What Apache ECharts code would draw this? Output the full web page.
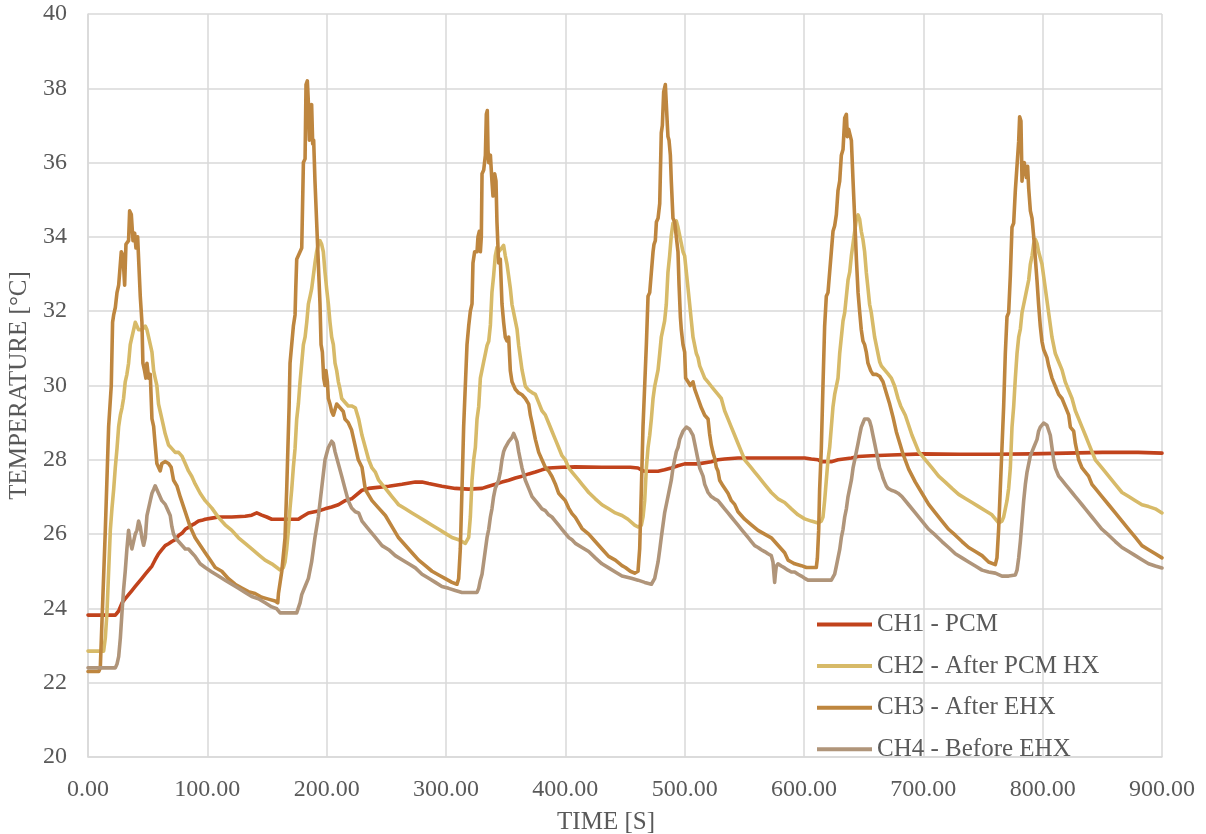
<!DOCTYPE html>
<html>
<head>
<meta charset="utf-8">
<script src="https://cdn.jsdelivr.net/npm/echarts@6/dist/echarts.min.js"></script>
<style>
  html, body { margin: 0; padding: 0; background: #ffffff; }
  #chart { width: 1206px; height: 834px; }
</style>
</head>
<body>
<div id="chart"></div>
<script>
// Channel names shown in the legend
const seriesNames = ['CH1 - PCM', 'CH2 - After PCM HX', 'CH3 - After EHX', 'CH4 - Before EHX'];

// Axis ranges (time in s, temperature in °C)
const timeRange = [0, 900, 100];
const tempRange = [20, 40, 2];

// Measured temperatures: [time s, temperature °C]
const ch1 = [
  [0,23.82],[22.9,23.82],[25.7,23.93],[28.5,24.15],[31.2,24.26],[34,24.37],[36.8,24.48],[39.6,24.59],[42.4,24.7],
  [45.2,24.81],[48,24.92],[50.8,25.03],[53.6,25.14],[56.3,25.31],[59.1,25.47],[61.9,25.58],[64.7,25.69],[67.5,25.74],
  [70.3,25.8],[73.1,25.85],[75.9,25.96],[78.7,26.02],[81.5,26.13],[84.2,26.18],[87,26.24],[89.8,26.29],[92.6,26.35],
  [95.4,26.37],[98.2,26.4],[103.8,26.43],[109.3,26.46],[120.5,26.46],[131.7,26.48],[137.2,26.51],[141.4,26.57],
  [145.6,26.51],[149.8,26.46],[154,26.4],[165.1,26.4],[176.3,26.4],[179.1,26.46],[184.7,26.57],[193,26.62],
  [198.6,26.68],[204.2,26.73],[209.8,26.79],[215.3,26.9],[220.9,26.95],[229.6,27.18],[235.2,27.23],[240.8,27.25],
  [252,27.29],[263.1,27.34],[274.3,27.4],[279.9,27.4],[285.5,27.36],[296.6,27.29],[307.8,27.23],[319,27.21],
  [330.2,27.23],[335.8,27.29],[341.3,27.34],[346.9,27.4],[352.5,27.45],[358.1,27.51],[363.7,27.56],[369.3,27.62],
  [374.9,27.67],[380.4,27.73],[386,27.78],[397.2,27.8],[408.4,27.81],[430.7,27.8],[454.5,27.8],[460.9,27.78],
  [463.7,27.73],[466.5,27.69],[477.7,27.69],[483.2,27.73],[488.8,27.78],[494.4,27.84],[500,27.89],[511.2,27.89],
  [522.3,27.95],[527.9,28.0],[533.5,28.02],[544.7,28.05],[600.6,28.05],[606.1,28.02],[611.7,28.0],[614.5,27.95],
  [622.9,27.95],[628.5,28.0],[639.7,28.05],[645.3,28.09],[656.4,28.11],[673.2,28.13],[700,28.16],[730,28.15],
  [760,28.15],[790,28.16],[820,28.18],[850,28.2],[880,28.2],[900,28.18]
];

const ch2 = [
  [0,22.85],[8.9,22.85],[10.3,22.8],[13.1,22.85],[14.5,23.2],[15.9,23.9],[17.3,25.0],[18.7,26.1],[20.1,26.7],
  [21.5,27.2],[22.9,27.8],[24.3,28.3],[25.7,28.9],[27.1,29.2],[28.5,29.4],[29.8,29.65],[31.2,30.1],[32.6,30.3],
  [34.0,30.6],[35.4,31.1],[36.8,31.3],[38.2,31.5],[39.6,31.7],[41.0,31.6],[42.4,31.5],[45.2,31.5],[48.0,31.6],
  [49.4,31.5],[50.8,31.3],[52.2,31.1],[53.6,30.9],[55.0,30.4],[56.3,30.2],[57.7,30.0],[59.1,29.5],[60.5,29.3],
  [61.9,29.1],[63.3,28.9],[64.7,28.7],[67.5,28.4],[70.3,28.3],[73.1,28.2],[75.9,28.2],[78.7,28.1],[81.5,27.9],
  [84.2,27.7],[87,27.55],[89.8,27.35],[94,27.1],[98.2,26.9],[103.8,26.7],[109.3,26.45],[114.9,26.25],[120.5,26.1],
  [126.1,25.9],[131.7,25.75],[137.2,25.6],[142.8,25.45],[148.4,25.3],[154,25.2],[158.2,25.1],[161,25.03],
  [163.7,25.1],[165.1,25.25],[166.5,25.6],[167.9,26.1],[169.3,26.7],[170.7,27.2],[172.1,27.8],[173.5,28.3],
  [174.9,29.1],[176.3,29.5],[177.7,30.1],[179.1,30.6],[180.5,31.1],[181.9,31.3],[183.3,31.7],[184.7,32.2],
  [186.1,32.4],[187.4,32.6],[188.8,32.95],[190.2,33.3],[191.6,33.6],[193,33.8],[194.4,33.9],[195.8,33.8],
  [197.2,33.6],[198.6,33.05],[200,32.6],[201.4,32.2],[202.8,31.7],[204.2,31.3],[205.6,31.1],[207,30.6],
  [208.4,30.4],[209.8,30.1],[211.2,29.9],[212.6,29.65],[215.3,29.55],[218.1,29.45],[220.9,29.45],[224,29.4],
  [226.8,29.1],[229.6,28.66],[232.4,28.33],[235.2,28.0],[238,27.78],[240.8,27.67],[243.6,27.45],[246.4,27.34],
  [249.2,27.23],[252,27.12],[254.7,27.01],[257.5,26.9],[260.3,26.79],[265.9,26.68],[271.5,26.57],[277.1,26.46],
  [282.7,26.35],[288.3,26.24],[293.9,26.13],[299.4,26.02],[305,25.91],[310.6,25.85],[313.4,25.8],[316.2,25.75],
  [319,25.91],[320.4,26.46],[321.8,27.45],[323.2,28.0],[324.6,28.33],[326,29.1],[327.4,29.43],[328.8,30.2],
  [330.2,30.42],[331.6,30.64],[333,30.86],[334.4,31.08],[335.8,31.19],[337.2,31.63],[338.5,32.51],[339.9,32.95],
  [341.3,33.49],[342.7,33.71],[344.1,33.6],[345.5,33.6],[346.9,33.71],[348.3,33.77],[349.7,33.49],[351.1,33.27],
  [352.5,32.95],[353.9,32.62],[355.3,32.18],[356.7,31.96],[358.1,31.74],[359.5,31.52],[360.9,31.08],[362.3,30.75],
  [363.7,30.42],[365.1,30.2],[366.5,29.98],[369.3,29.87],[372.1,29.81],[374.9,29.76],[377.7,29.54],[380.4,29.32],
  [383.2,29.21],[386,28.99],[388.8,28.77],[391.6,28.55],[394.4,28.33],[397.2,28.11],[400,28.0],[402.8,27.78],
  [405.6,27.67],[408.4,27.56],[411.2,27.45],[414,27.34],[416.8,27.23],[419.6,27.12],[425.1,26.95],[430.7,26.79],
  [436.3,26.68],[441.9,26.57],[447.5,26.5],[452.5,26.4],[458.1,26.24],[460.9,26.19],[463.7,26.24],[465.1,26.46],
  [466.5,26.9],[467.9,27.78],[469.3,28.33],[470.7,28.66],[472.1,29.1],[473.5,29.65],[474.9,29.98],[476.3,30.2],
  [477.7,30.42],[479.1,30.86],[480.4,31.3],[481.8,31.52],[483.2,31.74],[484.6,32.18],[486,33.05],[487.4,33.49],
  [488.8,34.04],[490.2,34.37],[491.6,34.37],[493,34.43],[494.4,34.26],[495.8,34.04],[497.2,33.82],[498.6,33.6],
  [500,33.49],[501.4,33.05],[502.8,32.62],[504.2,32.18],[505.6,31.74],[507,31.3],[508.4,31.08],[509.8,30.86],
  [511.2,30.75],[512.6,30.53],[514,30.42],[516.8,30.2],[519.6,30.09],[522.3,29.98],[525.1,29.87],[527.9,29.76],
  [530.7,29.65],[533.5,29.32],[536.3,29.1],[539.1,28.88],[541.9,28.66],[544.7,28.44],[547.5,28.22],[550.3,28.0],
  [553.1,27.89],[555.9,27.78],[558.7,27.67],[561.5,27.56],[567,27.34],[572.6,27.12],[578.2,26.95],[583.8,26.85],
  [589.4,26.68],[595,26.52],[600.6,26.41],[606.1,26.35],[611.7,26.3],[614.5,26.35],[615.9,26.46],[617.3,26.9],
  [618.7,27.45],[620.1,28.0],[621.5,28.33],[622.9,28.88],[624.3,29.43],[625.7,29.76],[628.5,30.2],[629.9,30.86],
  [631.3,31.3],[632.7,31.74],[634.1,31.96],[635.5,32.4],[636.9,32.84],[638.3,33.05],[639.7,33.49],[641.1,33.82],
  [642.5,34.15],[643.9,34.48],[645.3,34.59],[646.6,34.48],[648,34.15],[649.4,33.93],[650.8,33.6],[652.2,33.05],
  [653.6,32.62],[655,32.18],[656.4,31.96],[657.8,31.63],[659.2,31.3],[660.6,31.08],[662,30.86],[663.4,30.64],
  [664.8,30.53],[667.6,30.42],[670.4,30.31],[673.2,30.2],[676,29.98],[678.8,29.65],[681,29.45],[684.9,29.2],
  [690.5,28.66],[696.1,28.22],[701.7,28.0],[707.3,27.78],[712.8,27.56],[718.4,27.4],[724,27.23],[729.6,27.07],
  [735.2,26.96],[740.8,26.85],[746.4,26.74],[752,26.63],[757.5,26.52],[760.3,26.41],[763.1,26.3],[765.9,26.35],
  [767.3,26.46],[768.7,26.68],[770.1,26.9],[771.5,27.23],[772.9,27.78],[774.3,28.88],[775.7,29.43],[777.1,30.2],
  [778.5,30.86],[779.9,31.3],[781.3,31.52],[782.7,31.96],[784.1,32.18],[785.5,32.4],[786.9,32.62],[788.3,32.84],
  [789.7,33.27],[791.1,33.49],[792.5,33.82],[793.9,33.93],[795.3,33.82],[796.6,33.6],[799.4,33.27],[802.2,32.62],
  [805,31.96],[807.8,31.3],[810.6,30.86],[813.4,30.64],[816.2,30.42],[819,30.09],[821.8,29.87],[824.6,29.65],
  [827.4,29.32],[830.2,29.1],[833,28.88],[835.8,28.66],[838.5,28.44],[841.3,28.22],[844.1,28.0],[849.7,27.78],
  [855.3,27.56],[860.9,27.34],[866.5,27.12],[872.1,27.01],[877.7,26.9],[883.2,26.79],[888.8,26.74],[894.4,26.68],
  [900,26.57]
];

const ch3 = [
  [0,22.3],[9,22.3],[10.3,22.4],[14.5,26.1],[17.3,28.9],[19.5,30.0],[20.6,31.7],[21.5,31.9],[22.9,32.1],[24.3,32.5],
  [25.7,32.7],[27.9,33.6],[29.3,33.5],[30.7,32.7],[31.8,33.8],[34.0,33.9],[34.9,34.7],[36.3,34.6],[37.7,33.9],
  [39.1,34.1],[40.2,33.7],[41.6,34.0],[42.4,34.0],[43.8,32.4],[45.2,31.7],[46.0,30.6],[47.4,30.4],[48.5,30.2],
  [49.4,30.6],[50.8,30.2],[52.2,30.3],[53.6,29.1],[55.0,28.9],[56.3,28.4],[57.7,27.9],[59.1,27.8],[60.5,27.7],
  [61.9,27.9],[64.7,27.95],[67.5,27.9],[69.7,27.8],[71.7,27.45],[74.5,27.3],[77.3,27.0],[81.5,26.6],[85.6,26.2],
  [89.8,25.9],[94.0,25.7],[98.2,25.5],[102.4,25.3],[106.6,25.1],[112.1,25.0],[117.7,24.8],[123.3,24.65],
  [128.9,24.55],[134.4,24.45],[140.0,24.4],[145.6,24.3],[151.2,24.25],[156.8,24.2],[159.0,24.15],[159.6,24.4],
  [162.4,25.0],[165.1,25.9],[166.5,27.2],[168.5,29.4],[169.3,30.6],[170.7,31.1],[172.1,31.6],[173.5,31.9],
  [174.1,32.6],[174.9,33.4],[176.3,33.5],[177.7,33.6],[179.1,33.7],[180.5,36.0],[181.9,36.1],[182.7,38.1],
  [183.8,38.2],[184.7,37.6],[185.5,36.6],[186.3,37.45],[187.4,37.56],[188.3,36.5],[189.1,36.6],[190.2,35.5],
  [191.6,34.4],[193.0,33.3],[194.4,32.2],[195.3,31.1],[196.4,30.9],[197.5,30.2],[198.6,30.0],[199.4,30.4],
  [200.6,30.1],[201.4,29.65],[202.8,29.5],[204.2,29.3],[205.6,29.2],[207.0,29.2],[208.4,29.5],[211.2,29.4],
  [213.9,29.3],[215.3,29.1],[218.1,29.0],[220.9,28.8],[223.7,28.4],[226.5,28.0],[229.6,27.8],[232.4,27.2],
  [238,26.9],[243.6,26.7],[249.2,26.5],[254.7,26.2],[260.3,25.9],[265.9,25.7],[271.5,25.5],[277.1,25.3],
  [282.7,25.15],[288.3,25.0],[293.9,24.9],[299.4,24.8],[305,24.7],[309.2,24.65],[310.6,24.8],[312,25.6],
  [313.4,27.2],[314.8,28.9],[316.2,30.0],[317.6,31.1],[319,31.6],[320.4,32.0],[321.8,32.2],[322.6,33.3],
  [324,33.6],[326,33.6],[326.8,34.0],[327.9,34.15],[328.8,33.6],[329.6,34.0],[330.2,35.7],[331.6,35.8],
  [333,36.2],[333.8,37.3],[334.6,37.4],[335.2,36.35],[335.8,36.0],[337.2,36.2],[338.5,35.5],[339.4,35.1],
  [340.8,35.7],[341.9,35.5],[342.7,34.4],[344.1,33.3],[345.5,33.4],[346.9,32.2],[348.3,31.7],[349.7,31.3],
  [351.1,31.2],[352.5,31.3],[353.9,30.4],[355.3,30.1],[358.1,29.9],[360.9,29.8],[363.7,29.75],[366.5,29.65],
  [369.3,29.5],[370.7,29.2],[372.1,29.0],[374.9,28.55],[377.7,28.2],[380.4,28.0],[383.2,27.8],[386,27.7],
  [388.8,27.55],[391.6,27.35],[394.4,27.1],[397.2,27.0],[400,26.9],[402.8,26.7],[405.6,26.55],[408.4,26.45],
  [414,26.15],[419.6,26.0],[425.1,25.8],[430.7,25.6],[436.3,25.4],[441.9,25.3],[447.5,25.15],[450.3,25.1],
  [454.5,25.0],[458.1,24.95],[460.9,25.0],[462.3,25.6],[463.7,27.2],[465.1,28.9],[466.5,30.0],[467.9,31.1],
  [469.3,32.4],[470.7,32.5],[472.1,33.05],[473.5,33.6],[474.3,33.8],[475.4,33.9],[476.3,34.4],[477.7,34.5],
  [479.1,34.9],[480.4,36.8],[481.3,37.0],[482.4,37.9],[483.8,38.1],[484.9,38.1],[485.5,37.0],[486.0,36.7],
  [486.9,36.6],[488.0,36.2],[488.8,35.5],[490.2,34.5],[491.6,34.4],[493.0,34.0],[494.4,33.6],[495.3,32.7],
  [496.4,31.85],[497.2,31.5],[498.6,31.1],[500,30.9],[500.8,30.2],[502.8,30.1],[504.7,30.0],[507,30.1],
  [508.4,29.9],[511.2,29.65],[514,29.4],[516.8,29.2],[519.6,29.1],[520.9,28.7],[522.3,28.4],[523.7,28.2],
  [525.1,28.05],[526.5,27.8],[527.9,27.7],[529.3,27.45],[532.1,27.3],[536.3,27.1],[539.1,26.9],[541.9,26.8],
  [544.7,26.6],[550.3,26.4],[555.9,26.25],[561.5,26.1],[567,26.0],[572.6,25.9],[575.4,25.8],[578.2,25.7],
  [581,25.6],[583.8,25.5],[586.6,25.3],[589.4,25.25],[592.2,25.2],[597.8,25.15],[602,25.1],[606.1,25.1],
  [610.3,25.1],[611.2,25.35],[612.3,26.1],[613.1,27.2],[614.5,28.3],[615.9,30.0],[617.3,31.6],[618.7,32.4],
  [620.1,32.5],[621.5,33.05],[622.9,33.6],[624.3,34.15],[625.7,34.3],[627.1,34.6],[628.5,35.25],[629.9,35.5],
  [631.3,36.2],[632.7,36.35],[634.1,37.2],[635.5,37.3],[636.3,36.7],[637.4,36.9],[638.3,36.9],[639.7,36.6],
  [641.1,35.5],[642.5,34.5],[643.9,33.4],[645.3,32.5],[646.6,32.0],[648.0,31.5],[649.4,31.2],[650.8,31.1],
  [652.2,30.9],[653.6,30.6],[655.9,30.4],[657.8,30.3],[660.6,30.3],[663.4,30.25],[666.2,30.1],[669,29.8],
  [671.8,29.5],[674.6,29.15],[677.4,28.75],[680.2,28.45],[683,28.15],[687.7,27.75],[693.3,27.4],[698.9,27.1],
  [704.5,26.8],[710.1,26.57],[715.6,26.35],[721.2,26.13],[726.8,25.97],[732.4,25.8],[738,25.64],[743.6,25.53],
  [749.2,25.42],[754.7,25.25],[760.3,25.18],[761.7,25.36],[763.1,26.13],[764.5,27.23],[765.9,28.33],
  [767.3,29.43],[768.7,30.86],[770.1,31.85],[771.5,31.96],[772.9,32.95],[774.3,34.26],[775.7,34.37],
  [777.1,35.25],[778.5,35.91],[779.9,36.57],[780.7,37.23],[781.8,37.12],[782.7,35.5],[783.5,35.91],
  [784.6,36.0],[785.5,35.8],[786.3,35.6],[787.4,35.9],[788.3,35.3],[789.7,34.7],[791.1,34.5],[792.5,34.0],
  [793.9,33.4],[795.3,32.8],[796.6,32.18],[798,31.6],[799.4,31.19],[800.8,30.97],[802.2,30.86],[803.6,30.75],
  [805,30.53],[807.8,30.2],[810.6,29.98],[813.4,29.76],[816.2,29.65],[819,29.43],[821.8,29.21],[823.2,28.88],
  [826,28.77],[827.4,28.44],[828.8,28.22],[830.2,28.0],[833,27.78],[835.8,27.67],[838.5,27.56],[841.3,27.34],
  [844.1,27.23],[849.7,27.01],[855.3,26.79],[860.9,26.57],[866.5,26.35],[872.1,26.13],[877.7,25.91],
  [883.2,25.69],[888.8,25.58],[894.4,25.47],[900,25.36]
];

const ch4 = [
  [0,22.4],[22.9,22.4],[24.3,22.5],[25.7,22.7],[27.1,23.2],[28.5,23.9],[29.8,24.5],[31.2,25.0],[32.6,25.6],
  [34.0,26.1],[35.4,25.8],[36.8,25.6],[38.2,25.6],[39.6,26.0],[41.0,26.1],[42.4,26.35],[43.8,26.2],[45.2,25.9],
  [46.6,25.7],[48.0,25.9],[49.4,26.5],[50.8,26.7],[52.2,26.9],[53.6,27.1],[55.0,27.2],[56.3,27.3],[57.7,27.2],
  [59.1,27.1],[60.5,27.0],[61.9,26.9],[63.3,26.9],[64.7,26.8],[66.1,26.7],[67.5,26.6],[68.9,26.5],[70.3,26.2],
  [71.7,26.0],[73.1,25.9],[75.9,25.8],[78.7,25.7],[81.5,25.6],[84.2,25.6],[87,25.5],[89.8,25.4],[94,25.2],
  [98.2,25.1],[103.8,24.98],[109.3,24.87],[114.9,24.76],[120.5,24.65],[126.1,24.54],[131.7,24.43],[137.2,24.32],
  [142.8,24.26],[148.4,24.15],[154,24.04],[158.2,23.99],[161,23.88],[165.1,23.88],[170.7,23.88],[174.9,23.88],
  [176.3,23.93],[177.7,24.15],[179.1,24.37],[181.9,24.59],[184.7,24.81],[187.4,25.25],[190.2,25.91],[193,26.46],
  [195.8,27.23],[198.6,28.0],[201.4,28.33],[204.2,28.5],[205.6,28.44],[207,28.22],[209.8,27.89],[212.6,27.56],
  [215.3,27.23],[218.1,26.9],[220.9,26.7],[224,26.6],[226.8,26.57],[229.6,26.35],[235.2,26.13],[240.8,25.91],
  [246.4,25.69],[252,25.58],[257.5,25.42],[263.1,25.31],[268.7,25.2],[274.3,25.09],[279.9,24.92],[285.5,24.81],
  [291.1,24.7],[296.6,24.59],[302.2,24.54],[307.8,24.48],[313.4,24.43],[319,24.43],[326,24.43],[327.4,24.54],
  [328.8,24.76],[330.2,24.92],[331.6,25.25],[333,25.58],[334.4,25.91],[335.8,26.13],[337.2,26.46],[338.5,26.68],
  [339.9,27.01],[341.3,27.23],[344.1,27.45],[345.5,27.67],[346.9,28.0],[348.3,28.22],[349.7,28.33],[352.5,28.49],
  [355.3,28.6],[356.7,28.71],[358.1,28.66],[359.5,28.49],[360.9,28.22],[362.3,28.0],[363.7,27.78],[366.5,27.45],
  [369.3,27.23],[372.1,27.01],[374.9,26.9],[377.7,26.79],[380.4,26.68],[383.2,26.63],[386,26.52],[388.8,26.46],
  [391.6,26.35],[394.4,26.24],[397.2,26.13],[400,26.02],[402.8,25.91],[405.6,25.85],[408.4,25.75],[414,25.64],
  [419.6,25.53],[425.1,25.36],[430.7,25.2],[436.3,25.09],[441.9,24.98],[447.5,24.87],[455.3,24.81],
  [460.9,24.76],[466.5,24.7],[472.1,24.65],[473.5,24.7],[474.9,24.81],[476.3,25.03],[477.7,25.25],[479.1,25.58],
  [480.4,25.91],[481.8,26.24],[483.2,26.57],[484.6,26.79],[486,27.01],[487.4,27.23],[488.8,27.45],[490.2,27.78],
  [491.6,28.0],[493,28.22],[494.4,28.33],[495.8,28.55],[497.2,28.66],[498.6,28.77],[500,28.82],[501.4,28.88],
  [502.8,28.88],[504.2,28.82],[505.6,28.77],[507,28.66],[508.4,28.44],[509.8,28.22],[511.2,28.0],[512.6,27.78],
  [514,27.67],[515.4,27.56],[516.8,27.34],[518.2,27.23],[519.6,27.12],[522.3,27.01],[525.1,26.95],[527.9,26.9],
  [530.7,26.79],[533.5,26.68],[536.3,26.57],[539.1,26.46],[541.9,26.35],[544.7,26.24],[547.5,26.13],[550.3,26.02],
  [553.1,25.91],[555.9,25.8],[558.7,25.69],[561.5,25.64],[564.2,25.58],[567,25.53],[569.8,25.47],[572.6,25.42],
  [574,25.25],[575.4,24.7],[576,24.92],[576.8,25.14],[578.2,25.2],[581,25.14],[583.8,25.09],[586.6,25.03],
  [589.4,24.98],[592.2,24.98],[595,24.92],[597.8,24.87],[600.6,24.81],[603.4,24.76],[606.1,24.76],[611.7,24.76],
  [617.3,24.76],[622.9,24.76],[624.3,24.81],[625.7,24.92],[627.1,25.14],[628.5,25.36],[629.9,25.58],[631.3,25.91],
  [632.7,26.13],[634.1,26.46],[635.5,26.68],[636.9,27.01],[638.3,27.23],[639.7,27.45],[641.1,27.78],[642.5,28.0],
  [643.9,28.22],[645.3,28.44],[646.6,28.66],[648,28.88],[649.4,28.99],[650.8,29.1],[652.2,29.1],[653.6,29.1],
  [655,29.04],[656.4,28.88],[657.8,28.66],[659.2,28.44],[660.6,28.22],[662,28.0],[663.4,27.78],[664.8,27.67],
  [666.2,27.51],[667.6,27.4],[669,27.29],[670.4,27.23],[673.2,27.18],[676,27.15],[678.8,27.1],[682.1,27.01],
  [687.7,26.79],[693.3,26.57],[698.9,26.35],[704.5,26.13],[710.1,25.97],[715.6,25.8],[721.2,25.64],[726.8,25.47],
  [732.4,25.36],[738,25.25],[743.6,25.14],[749.2,25.03],[754.7,24.98],[760.3,24.95],[765.9,24.87],[771.5,24.87],
  [777.1,24.9],[778.5,25.03],[779.9,25.36],[781.3,25.8],[782.7,26.35],[784.1,26.9],[785.5,27.34],[786.9,27.67],
  [788.3,27.89],[789.7,28.11],[791.1,28.22],[792.5,28.33],[793.9,28.33],[795.3,28.55],[796.6,28.77],[798,28.88],
  [799.4,28.93],[800.8,28.99],[802.2,28.99],[803.6,28.93],[805,28.88],[806.4,28.66],[807.8,28.33],[809.2,28.0],
  [810.6,27.78],[813.4,27.56],[816.2,27.45],[819,27.34],[821.8,27.23],[824.6,27.12],[827.4,27.01],[830.2,26.9],
  [833,26.79],[835.8,26.68],[838.5,26.57],[841.3,26.46],[844.1,26.35],[849.7,26.13],[855.3,25.97],[860.9,25.8],
  [866.5,25.64],[872.1,25.53],[877.7,25.42],[883.2,25.31],[888.8,25.2],[894.4,25.14],[900,25.09]
];

const channelData = [ch1, ch2, ch3, ch4];
const channelColors = ['#C1431C', '#D7BA68', '#BE863F', '#B0957A'];

const FONT = '"Liberation Serif", "Times New Roman", serif';
const TEXT_COLOR = '#595959';
const GRID_COLOR = '#D9D9D9';

const chart = echarts.init(document.getElementById('chart'), null, { renderer: 'canvas' });

chart.setOption({
  animation: false,
  backgroundColor: '#ffffff',
  grid: { left: 88, right: 44, top: 14, bottom: 77, containLabel: false, outerBoundsMode: 'none' },
  xAxis: {
    type: 'value',
    min: timeRange[0], max: timeRange[1], interval: timeRange[2],
    name: 'TIME [S]',
    nameLocation: 'middle',
    nameGap: 53,
    nameTextStyle: { color: TEXT_COLOR, fontFamily: FONT, fontSize: 25, padding: [0, 38, 0, 0] },
    axisLine: { show: true, lineStyle: { color: GRID_COLOR, width: 1.5 } },
    axisTick: { show: false },
    splitLine: { show: true, lineStyle: { color: GRID_COLOR, width: 1.5 } },
    axisLabel: {
      color: TEXT_COLOR, fontFamily: FONT, fontSize: 24, margin: 21,
      formatter: v => v.toFixed(2)
    }
  },
  yAxis: {
    type: 'value',
    min: tempRange[0], max: tempRange[1], interval: tempRange[2],
    name: 'TEMPERATURE [°C]',
    nameLocation: 'middle',
    nameGap: 54,
    nameRotate: 90,
    nameTextStyle: { color: TEXT_COLOR, fontFamily: FONT, fontSize: 25 },
    axisLine: { show: true, lineStyle: { color: GRID_COLOR, width: 1.5 } },
    axisTick: { show: false },
    splitLine: { show: true, lineStyle: { color: GRID_COLOR, width: 1.5 } },
    axisLabel: { color: TEXT_COLOR, fontFamily: FONT, fontSize: 24, margin: 21 }
  },
  legend: {
    orient: 'vertical',
    left: 817,
    top: 612,
    padding: 0,
    itemWidth: 55,
    itemHeight: 14,
    itemGap: 16.6,
    icon: 'path://M0,0 L55,0 L55,4 L0,4 Z',
    textStyle: { color: TEXT_COLOR, fontFamily: FONT, fontSize: 25, lineHeight: 25 },
    data: seriesNames
  },
  series: seriesNames.map((name, i) => ({
    name: name,
    type: 'line',
    data: channelData[i],
    symbol: 'none',
    showSymbol: false,
    smooth: false,
    color: channelColors[i],
    lineStyle: { width: 3.6, color: channelColors[i], join: 'round', cap: 'round' },
    emphasis: { disabled: true },
    z: 2 + i
  }))
});
</script>
</body>
</html>
